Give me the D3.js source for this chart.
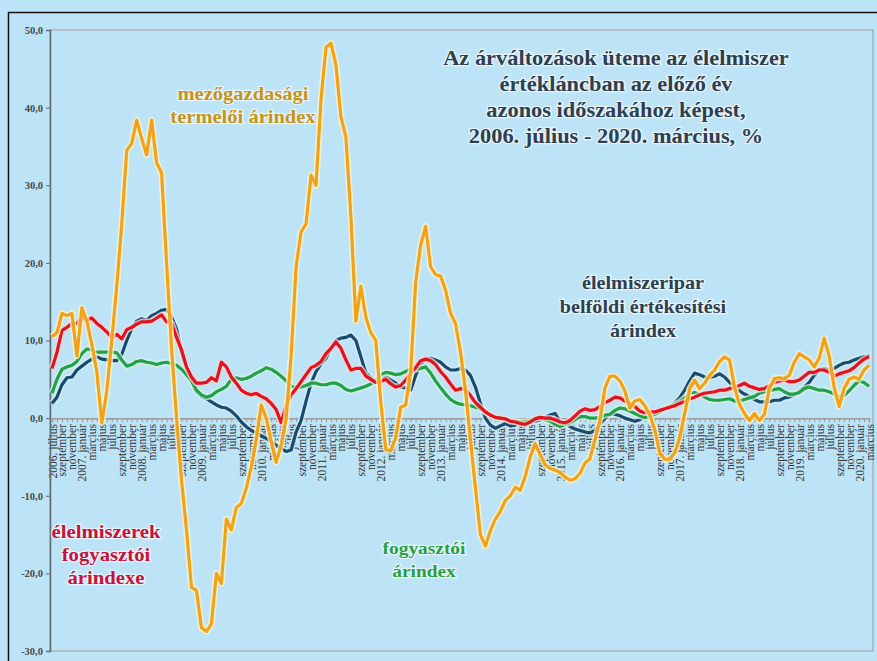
<!DOCTYPE html>
<html>
    <head>
        <meta charset="utf-8">
        <script src="https://cdn.jsdelivr.net/npm/d3@7"></script>
    </head>
    <style>
        body { margin: 0; background: #bde3f6; }
        text { font-family: 'Liberation Serif', 'Times New Roman', serif; }
    </style>
    <body>
        <div id="canvas"></div>
        <script>
            // months, 2006. július - 2020. március
            var monthNames = ['január', 'február', 'március', 'április', 'május', 'június',
                              'július', 'augusztus', 'szeptember', 'október', 'november', 'december'];
            var startYear = 2006, startMonth = 6, monthCount = 165;

            var yTicks = [-30, -20, -10, 0, 10, 20, 30, 40, 50];

            // mezőgazdasági termelői árindex
            var agri = [10.5, 11, 13.5, 13.2, 13.5, 8, 14.2, 12.5, 9.5, 6, -0.6, 3.5, 10, 17, 25, 34.5,
                        35.4, 38.4, 36, 33.9, 38.4, 32.9, 31.6, 20, 9, 0, -8, -14.4, -21.8, -22.2, -27,
                        -27.5, -26.5, -20, -21.3, -13, -14.4, -11.5, -11, -9, -6.3, -2.8, 1.7, 0, -3, -5.7,
                        -3.5, 0, 8, 19.5, 24, 25, 31.3, 30, 41, 47.8, 48.3, 45.5, 38.8, 36.2, 26, 12.5,
                        17, 13, 11, 10, 2, -4, -4.2, -2.5, 1.4, 1.7, 6, 17.5, 22.3, 24.7, 19.5, 18.5,
                        18.3, 16.5, 13.5, 12.2, 8.5, 3.6, -2.8, -9, -15, -16.5, -14.5, -13, -12, -10.6,
                        -10, -8.9, -9.3, -7.5, -5, -3.3, -4.7, -6, -6.5, -6.7, -7, -7.6, -8, -7.8, -7.1,
                        -5.8, -5.2, -2.8, -0.2, 3.9, 5.4, 5.4, 4.8, 3.5, 1.3, 2.2, 2.4, 1.6, 0.4, -1.5,
                        -4.5, -5.3, -5.3, -4.5, -2.5, 0.6, 3.8, 4.9, 3.8, 4.5, 5.5, 6.2, 7.3, 7.9, 7.5,
                        4, 1.8, 0.6, -0.3, 0.6, -0.3, 0.5, 3.8, 5.1, 5.2, 5.1, 5.5, 7.2, 8.3, 7.9, 7.5,
                        6.6, 7.7, 10.3, 8, 4, 1.5, 3.8, 5, 5.3, 5, 6.2, 6.8];

            // élelmiszeripar belföldi értékesítési árindex
            var industry = [1.9, 2.7, 4.3, 5.2, 5.3, 6.2, 6.7, 7.2, 7.6, 7.9, 7.6, 7.5, 7.4, 7.4, 8.2,
                            10, 11.5, 12.5, 12.8, 12.6, 13.2, 13.5, 13.9, 14, 13, 11.5, 8.5, 6.5, 4.8, 3.4,
                            2.8, 2.5, 2.1, 1.7, 1.4, 1.3, 0.9, 0.3, -0.5, -1.1, -1.6, -1.9, -2.3, -2.6, -3,
                            -3.5, -3.9, -4.3, -4.1, -1.8, -0.3, 2.2, 4.5, 6, 7, 7.7, 9, 10, 10.3, 10.4, 10.7,
                            10, 7.9, 5.8, 5.2, 4.6, 4.9, 5.3, 4.9, 4.5, 4, 3.9, 3.6, 5.5, 7, 7.6, 7.7, 7.5,
                            7.2, 6.6, 6.2, 6.2, 6.4, 6.2, 5.5, 4, 1.9, 0, -0.9, -1.3, -1, -0.7, -1, -0.9,
                            -0.5, -0.6, -0.5, -0.4, -0.2, 0.1, 0.4, 0.6, -0.5, -0.6, -1.1, -1.4, -1.6, -1.8,
                            -1.9, -1.6, -0.8, 0, 0.5, 0.5, 0.3, 0, -0.2, -0.4, -0.2, 0.2, 0.5, 0.7, 0.9, 1.1,
                            1.4, 2, 2.6, 3.6, 4.8, 5.8, 5.6, 5.3, 5.2, 5.4, 5.7, 5.3, 4.6, 4.1, 3.5, 3.1,
                            2.8, 2.4, 2.1, 2.1, 2.1, 2.3, 2.3, 2.6, 2.7, 3, 3.4, 4, 4.6, 5.5, 6.2, 6.4, 6.2,
                            6.4, 6.8, 7.1, 7.2, 7.5, 7.7, 7.9, 8];

            // élelmiszerek fogyasztói árindexe
            var foodCpi = [6.4, 8.5, 11.3, 11.7, 12.2, 12.2, 13, 12.6, 12.9, 12.2, 11.7, 11.1, 10.4, 10.8,
                           10.2, 11.4, 11.7, 12.1, 12.4, 12.4, 12.5, 12.9, 13.3, 12.4, 12.2, 10.4, 8.8, 6.6,
                           5.3, 4.5, 4.5, 4.6, 5.2, 4.8, 7.2, 6.6, 5.3, 4.5, 3.6, 3.2, 3, 3.2, 2.8, 2.5, 1.9,
                           1.1, -0.6, 1.6, 3, 3.8, 4.7, 5.6, 6.5, 6.8, 7.3, 8.3, 9, 9.8, 9, 7.5, 6.2, 6.4,
                           6.4, 5.4, 5, 4.6, 4.7, 5, 4.4, 4, 4.2, 4.9, 5.8, 6.5, 7.4, 7.6, 7.4, 6.9, 6, 5.3,
                           4.4, 3.6, 3.8, 3.7, 2.9, 2, 1.4, 0.8, 0.4, 0.1, 0, -0.1, -0.4, -0.5, -0.7, -0.8,
                           -0.5, -0.1, 0.1, 0, 0, -0.2, -0.5, -0.6, -0.3, 0.3, 0.9, 1.2, 1, 1.1, 1.5, 2, 2.3,
                           2.7, 2.6, 2.2, 1.9, 1.5, 0.9, 0.7, 0.8, 0.8, 1, 1.2, 1.4, 1.6, 1.9, 2.1, 2.5, 2.7,
                           3, 3.2, 3.3, 3.4, 3.6, 3.6, 3.8, 4, 4.2, 4.5, 4.1, 3.9, 3.7, 3.8, 4.2, 4.6, 4.8,
                           4.9, 4.7, 4.7, 4.9, 5.4, 5.9, 5.9, 6.2, 6.2, 5.9, 5.4, 5.7, 5.9, 6.1, 6.5, 7.1,
                           7.6, 7.9];

            // fogyasztói árindex
            var cpi = [3.2, 5, 6.3, 6.6, 6.8, 7.3, 8.3, 8.9, 8.8, 8.5, 8.5, 8.5, 8.5, 8.4, 7.5, 6.7, 6.9,
                       7.3, 7.4, 7.2, 7.1, 6.9, 7.1, 7.2, 7, 6.8, 6.3, 5.6, 4.8, 3.6, 3, 2.7, 2.9, 3.4, 3.7,
                       4.1, 5, 5.2, 5, 5.1, 5.4, 5.8, 6.1, 6.5, 6.3, 5.9, 5.4, 4.8, 4.1, 3.9, 4, 4.2, 4.5,
                       4.5, 4.3, 4.3, 4.5, 4.5, 4.2, 3.7, 3.5, 3.7, 3.9, 4.1, 4.4, 4.8, 5.6, 5.9, 5.8, 5.6,
                       5.7, 6, 6.3, 6.3, 6.4, 6.6, 5.8, 4.8, 3.9, 3.1, 2.4, 2, 1.8, 1.7, 1.6, 1.4, 1.2, 0.8,
                       0.4, 0.1, 0, -0.1, -0.3, -0.4, -0.5, -0.5, -0.3, 0, 0.1, -0.2, -0.4, -0.8, -1.1,
                       -0.8, -0.6, -0.2, 0.2, 0.2, 0, 0, 0.1, 0.4, 0.5, 1, 1.3, 1.2, 0.9, 0.6, 0.3, 0.1,
                       0.2, 0.5, 0.8, 1.2, 1.5, 1.8, 2.1, 2.6, 3.2, 3.3, 3, 2.7, 2.4, 2.3, 2.3, 2.4, 2.5,
                       2.2, 2.2, 2.4, 2.6, 2.8, 3.2, 3.4, 3.5, 3.7, 3.8, 3.4, 3.1, 3.1, 3.3, 3.8, 4, 3.8,
                       3.6, 3.6, 3.4, 3.1, 2.8, 2.9, 3.5, 4.2, 4.8, 4.6, 4.1];

            var months = d3.range(monthCount).map(function(i) {
                var m = startMonth + i;
                var name = monthNames[m % 12];
                return m % 12 === 0 || i === 0 ? (startYear + Math.floor(m / 12)) + '. ' + name : name;
            });
            // keys make duplicate month names unique
            var keys = d3.range(monthCount);

            const w = 877;
            const h = 661;

            const svg = d3.select('#canvas')
                .append('svg')
                .attr('width', w)
                .attr('height', h);

            svg.append('rect')
                .attr('width', w).attr('height', h)
                .attr('fill', '#bde3f6');

            // outer frame
            svg.append('rect')
                .attr('x', 8.5).attr('y', 12.5)
                .attr('width', 900).attr('height', 700)
                .attr('fill', 'none')
                .attr('stroke', '#111')
                .attr('stroke-width', 1.5);

            var x = d3.scalePoint().domain(keys).range([52, 869]);
            var y = d3.scaleLinear().domain([-30, 50]).range([651, 30]);

            // plot frame
            svg.append('rect')
                .attr('x', 50).attr('y', y(50))
                .attr('width', 823).attr('height', y(-30) - y(50))
                .attr('fill', 'none')
                .attr('stroke', '#a9b4bb')
                .attr('stroke-width', 1.5);

            // x axis on zero line
            var xAxis = svg.append('g')
                .attr('transform', `translate(0,${y(0)})`)
                .call(d3.axisBottom(x)
                    .tickSize(4)
                    .tickFormat(i => i % 2 === 0 ? months[i] : ''));
            xAxis.select('.domain').attr('stroke', '#9a9a9a').attr('stroke-width', 1.5);
            xAxis.selectAll('.tick line').attr('stroke', '#9a9a9a');
            xAxis.selectAll('text')
                .attr('transform', 'rotate(-90)')
                .attr('x', -6)
                .attr('y', 0)
                .attr('dy', '0.35em')
                .attr('text-anchor', 'end')
                .attr('fill', '#333')
                .attr('font-size', '11.5px')
                .attr('font-family', 'Liberation Serif');

            // y axis
            var yAxis = svg.append('g')
                .attr('transform', 'translate(50,0)')
                .call(d3.axisLeft(y)
                    .tickValues(yTicks)
                    .tickSize(4)
                    .tickFormat(d => d.toFixed(1).replace('.', ',')));
            yAxis.select('.domain').attr('stroke', '#5f6b73').attr('stroke-width', 1.5);
            yAxis.selectAll('.tick line').attr('stroke', '#5f6b73');
            yAxis.selectAll('text')
                .attr('fill', '#4a4a4a')
                .attr('font-size', '10.5px')
                .attr('font-weight', 'bold')
                .attr('font-family', 'Liberation Serif');

            var series = [
                { name: 'industry', values: industry, color: '#184c6e', halo: '#d8eef8' },
                { name: 'cpi', values: cpi, color: '#1ea24c', halo: '#d9f2df' },
                { name: 'foodCpi', values: foodCpi, color: '#e2121f', halo: '#f6d7d7' },
                { name: 'agri', values: agri, color: '#f2a21a', halo: '#fff4c8' }
            ];

            var line = d3.line()
                .x((d, i) => x(i))
                .y(d => y(d));

            series.forEach(function(s) {
                svg.append('path')
                    .datum(s.values)
                    .attr('d', line)
                    .attr('fill', 'none')
                    .attr('stroke', s.halo)
                    .attr('stroke-opacity', 0.75)
                    .attr('stroke-width', 6.5)
                    .attr('stroke-linejoin', 'round');
                svg.append('path')
                    .datum(s.values)
                    .attr('d', line)
                    .attr('fill', 'none')
                    .attr('stroke', s.color)
                    .attr('stroke-width', 3.2)
                    .attr('stroke-linejoin', 'round');
            });

            // labels (the original lettering is a little stretched sideways)
            var addText = function(lines, cx, y0, step, size, sx, color) {
                lines.forEach(function(t, k) {
                    svg.append('text')
                        .text(t)
                        .attr('transform', `translate(${cx},${y0 + k * step}) scale(${sx},1)`)
                        .attr('text-anchor', 'middle')
                        .attr('font-size', size + 'px')
                        .attr('font-weight', 'bold')
                        .attr('fill', color)
                        .attr('stroke', '#ffffff')
                        .attr('stroke-opacity', 0.6)
                        .attr('stroke-width', 2.5)
                        .attr('paint-order', 'stroke');
                });
            };

            addText(['Az árváltozások üteme az élelmiszer', 'értékláncban  az előző év',
                     'azonos időszakához képest,', '2006. július - 2020. március, %'],
                    616, 65, 26, 20, 1.12, '#2e3f4e');
            addText(['mezőgazdasági', 'termelői árindex'], 243, 100, 23, 18, 1.14, '#c4951c');
            addText(['élelmiszeripar', 'belföldi értékesítési', 'árindex'], 643, 289, 24, 18, 1.12, '#2e3f4e');
            addText(['élelmiszerek', 'fogyasztói', 'árindexe'], 106, 538, 23, 18.5, 1.12, '#c8123c');
            addText(['fogyasztói', 'árindex'], 424, 554, 23, 17, 1.14, '#27a043');
        </script>
    </body>
</html>
